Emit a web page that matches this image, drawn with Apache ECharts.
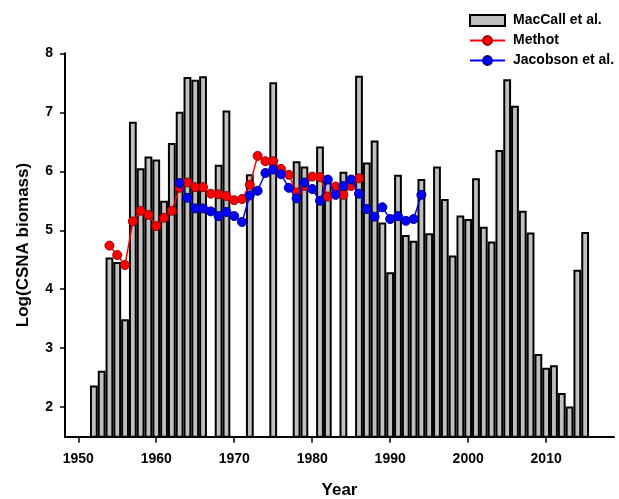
<!DOCTYPE html>
<html>
<head>
<meta charset="utf-8">
<script src="https://cdn.jsdelivr.net/npm/echarts@6/dist/echarts.min.js"></script>
<style>
html,body{margin:0;padding:0;background:#fff;}
#chart{width:619px;height:499px;}
</style>
</head>
<body>
<div id="chart"></div>
<script>
// MacCall et al. (bars), years 1952-2015, null = no bar
const barYears = [1952,1953,1954,1955,1956,1957,1958,1959,1960,1961,1962,1963,1964,1965,1966,1967,1968,1969,1970,1971,1972,1973,1974,1975,1976,1977,1978,1979,1980,1981,1982,1983,1984,1985,1986,1987,1988,1989,1990,1991,1992,1993,1994,1995,1996,1997,1998,1999,2000,2001,2002,2003,2004,2005,2006,2007,2008,2009,2010,2011,2012,2013,2014,2015];
const maccallValues = [2.37,2.62,4.54,4.46,3.49,6.84,6.05,6.25,6.20,5.50,6.48,7.01,7.60,7.55,7.61,null,6.11,7.03,null,null,5.95,null,null,7.51,null,null,6.17,6.08,null,6.42,5.82,null,5.99,null,7.62,6.15,6.52,5.13,4.29,5.94,4.92,4.82,5.87,4.95,6.08,5.53,4.57,5.25,5.19,5.88,5.06,4.81,6.36,7.56,7.11,5.33,4.96,2.90,2.67,2.71,2.24,2.01,4.33,4.97];

// Methot (red), 1954-1986
const methotYears = [1954,1955,1956,1957,1958,1959,1960,1961,1962,1963,1964,1965,1966,1967,1968,1969,1970,1971,1972,1973,1974,1975,1976,1977,1978,1979,1980,1981,1982,1983,1984,1985,1986];
const methotValues = [4.74,4.58,4.41,5.15,5.33,5.26,5.07,5.21,5.33,5.72,5.81,5.73,5.73,5.62,5.61,5.58,5.51,5.53,5.77,6.26,6.17,6.17,6.04,5.94,5.64,5.75,5.91,5.90,5.57,5.74,5.60,5.75,5.88];

// Jacobson et al. (blue), 1963-1994
const jacobsonYears = [1963,1964,1965,1966,1967,1968,1969,1970,1971,1972,1973,1974,1975,1976,1977,1978,1979,1980,1981,1982,1983,1984,1985,1986,1987,1988,1989,1990,1991,1992,1993,1994];
const jacobsonValues = [5.80,5.55,5.37,5.37,5.32,5.24,5.31,5.24,5.14,5.59,5.67,5.97,6.03,5.95,5.72,5.54,5.81,5.70,5.50,5.86,5.60,5.75,5.86,5.62,5.36,5.23,5.39,5.19,5.24,5.16,5.19,5.60];

const xTicks = [1950,1960,1970,1980,1990,2000,2010];
const yTicks = [2,3,4,5,6,7,8];

const pairs = (xs, ys) => xs.map((x, i) => [x, ys[i]]).filter(p => p[1] !== null);

const font = 'Liberation Sans, Arial, sans-serif';
const chart = echarts.init(document.getElementById('chart'), null, {renderer: 'canvas'});
chart.setOption({
  animation: false,
  backgroundColor: '#fff',
  textStyle: {fontFamily: font},
  grid: {left: 65, right: 5, top: 53.3, bottom: 62.3, containLabel: false, outerBoundsMode: 'none'},
  legend: {
    orient: 'vertical',
    left: 464,
    top: 8,
    itemWidth: 35,
    itemHeight: 11,
    itemGap: 5,
    textStyle: {fontFamily: font, fontSize: 14, fontWeight: 'bold', color: '#000', lineHeight: 15, padding: [0,0,0,3]},
    data: [
      {name: 'MacCall et al.', icon: 'rect'},
      {name: 'Methot'},
      {name: 'Jacobson et al.'}
    ]
  },
  xAxis: {
    type: 'value',
    min: 1948.3,
    max: 2018.7,
    name: 'Year',
    nameLocation: 'middle',
    nameGap: 45,
    nameTextStyle: {fontFamily: font, fontSize: 17, fontWeight: 'bold', color: '#000'},
    axisLine: {lineStyle: {color: '#000', width: 2}},
    axisTick: {show: true, length: 6, lineStyle: {color: '#000', width: 1.5}, customValues: xTicks},
    axisLabel: {customValues: xTicks, margin: 15, fontFamily: font, fontSize: 14, fontWeight: 'bold', color: '#000', formatter: v => String(v)},
    splitLine: {show: false}
  },
  yAxis: {
    type: 'value',
    min: 1.5,
    max: 8,
    name: 'Log(CSNA biomass)',
    nameLocation: 'middle',
    nameGap: 33,
    nameTextStyle: {fontFamily: font, fontSize: 17, fontWeight: 'bold', color: '#000'},
    axisLine: {show: true, lineStyle: {color: '#000', width: 2}},
    axisTick: {show: true, length: 5, lineStyle: {color: '#000', width: 1.5}, customValues: yTicks},
    axisLabel: {customValues: yTicks, margin: 12, fontFamily: font, fontSize: 14, fontWeight: 'bold', color: '#000'},
    splitLine: {show: false}
  },
  series: [
    {
      name: 'MacCall et al.',
      type: 'bar',
      data: pairs(barYears, maccallValues),
      barWidth: 7.8,
      itemStyle: {color: '#c0c0c0', borderColor: '#000', borderWidth: 2},
      z: 1
    },
    {
      name: 'Methot',
      type: 'line',
      data: pairs(methotYears, methotValues),
      symbol: 'circle',
      symbolSize: 9,
      lineStyle: {color: '#ff0000', width: 1.5},
      itemStyle: {color: '#ff0000', borderColor: '#a00000', borderWidth: 1},
      z: 3
    },
    {
      name: 'Jacobson et al.',
      type: 'line',
      data: pairs(jacobsonYears, jacobsonValues),
      symbol: 'circle',
      symbolSize: 9,
      lineStyle: {color: '#0000ff', width: 1.5},
      itemStyle: {color: '#0000ff', borderColor: '#00008b', borderWidth: 1},
      z: 4
    }
  ]
});
</script>
</body>
</html>
